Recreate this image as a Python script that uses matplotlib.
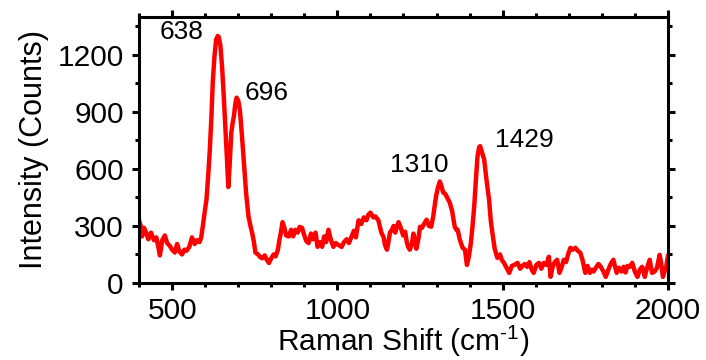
import matplotlib
matplotlib.use("Agg")
import matplotlib.pyplot as plt
from matplotlib.ticker import MultipleLocator

plt.rcParams['font.family'] = ['Liberation Sans', 'DejaVu Sans']
plt.rcParams['mathtext.fontset'] = 'custom'
plt.rcParams['mathtext.rm'] = 'Liberation Sans'
plt.rcParams['mathtext.default'] = 'regular'

# Raman spectrum: shift (cm^-1) and intensity (counts)
shift = [400, 405, 409, 415, 420, 428, 436, 445, 452, 457, 463, 470, 478, 485,
         493, 500, 508, 515, 522, 530, 537, 544, 552, 560, 568, 575, 583, 588,
         593, 599, 604, 609, 614, 619, 623, 628, 633, 638, 641, 646, 651, 656,
         661, 666, 670, 674, 679, 683, 687, 691, 695, 700, 705, 711, 718, 724,
         731, 737, 742, 747, 752, 760, 767, 773, 780, 787, 793, 800, 807, 813,
         820, 825, 829, 834, 839, 845, 853, 860, 866, 873, 880, 886, 893, 900,
         906, 913, 920, 927, 934, 940, 947, 954, 960, 966, 973, 980, 988, 995,
         1003, 1013, 1020, 1028, 1035, 1043, 1050, 1056, 1064, 1072, 1080, 1088, 1094, 1100,
         1109, 1115, 1124, 1133, 1140, 1144, 1150, 1154, 1159, 1165, 1170, 1175, 1180, 1185,
         1192, 1199, 1205, 1210, 1214, 1219, 1225, 1230, 1235, 1239, 1245, 1250, 1256, 1262,
         1270, 1277, 1284, 1290, 1294, 1299, 1304, 1310, 1315, 1320, 1326, 1332, 1340, 1347,
         1355, 1360, 1364, 1370, 1379, 1386, 1392, 1398, 1404, 1409, 1414, 1419, 1424, 1429,
         1432, 1437, 1444, 1450, 1455, 1459, 1464, 1469, 1476, 1484, 1492, 1498, 1504, 1512,
         1520, 1528, 1536, 1545, 1553, 1560, 1567, 1574, 1581, 1588, 1594, 1602, 1610, 1617,
         1625, 1633, 1640, 1645, 1652, 1658, 1665, 1672, 1678, 1685, 1692, 1698, 1705, 1712,
         1720, 1727, 1735, 1742, 1750, 1757, 1764, 1770, 1775, 1782, 1790, 1797, 1805, 1812,
         1820, 1827, 1835, 1845, 1852, 1860, 1866, 1872, 1878, 1885, 1892, 1900, 1908, 1915,
         1922, 1930, 1937, 1945, 1952, 1960, 1967, 1975, 1980, 1985, 1990, 1995, 2000]
intensity = [330, 300, 245, 290, 270, 230, 265, 225, 240, 200, 145, 225, 250, 210,
             195, 175, 160, 205, 165, 150, 175, 170, 190, 240, 205, 225, 215, 240,
             300, 380, 440, 560, 700, 880, 1060, 1190, 1280, 1300, 1295, 1250, 1140, 990,
             825, 650, 505, 620, 790, 840, 880, 940, 975, 960, 910, 780, 615, 470,
             350, 300, 265, 220, 160, 150, 135, 130, 145, 120, 105, 130, 150, 140,
             175, 230, 265, 320, 295, 250, 245, 280, 245, 280, 265, 295, 290, 250,
             220, 210, 260, 230, 265, 190, 215, 190, 245, 215, 280, 230, 190, 210,
             200, 190, 215, 230, 210, 245, 275, 240, 330, 310, 345, 330, 360, 370,
             345, 350, 330, 265, 240, 200, 175, 210, 265, 280, 300, 265, 295, 320,
             290, 250, 270, 215, 190, 175, 200, 260, 220, 180, 230, 296, 290, 310,
             333, 300, 296, 350, 402, 460, 500, 534, 510, 476, 470, 450, 423, 380,
             296, 280, 280, 230, 185, 175, 95, 140, 212, 300, 402, 540, 667, 715,
             720, 690, 651, 560, 490, 439, 330, 264, 180, 132, 150, 120, 106, 80,
             53, 90, 95, 106, 75, 90, 100, 85, 110, 70, 53, 95, 106, 75,
             106, 95, 138, 32, 90, 110, 122, 53, 80, 122, 110, 150, 185, 175,
             185, 170, 159, 120, 53, 90, 53, 70, 60, 80, 100, 85, 60, 32,
             70, 100, 122, 53, 80, 60, 85, 55, 90, 85, 106, 60, 32, 70,
             85, 32, 80, 122, 53, 60, 80, 148, 100, 32, 60, 85, 140]

# Peak annotations (label, x, y)
peak_labels = ["638", "696", "1310", "1429"]
label_x = [530, 785, 1247, 1565]
label_y = [1323, 1000, 619, 751]

fig = plt.figure(figsize=(7.06, 3.60), dpi=100)
ax = fig.add_axes([0.197, 0.214, 0.749, 0.739])

ax.plot(shift, intensity, color="#ff0000", lw=3.2, solid_joinstyle="round")

for lab, lx, ly in zip(peak_labels, label_x, label_y):
    ax.text(lx, ly, lab, ha="center", va="center", fontsize=19)

ax.set_xlim(400, 2000)
ax.set_ylim(0, 1400)
ax.xaxis.set_major_locator(MultipleLocator(500))
ax.xaxis.set_minor_locator(MultipleLocator(100))
ax.yaxis.set_major_locator(MultipleLocator(300))
ax.yaxis.set_minor_locator(MultipleLocator(150))

for s in ax.spines.values():
    s.set_linewidth(2.2)
ax.tick_params(which="both", direction="out", top=True, right=True,
               labeltop=False, labelright=False, width=2.2, labelsize=21.5)
ax.tick_params(which="major", length=5)
ax.tick_params(which="minor", length=3)
ax.tick_params(axis="x", which="major", pad=5)
ax.tick_params(axis="y", which="major", pad=6)

ax.set_xlabel(r"Raman Shift (cm$^{\text{-1}}$)", fontsize=21.5, labelpad=-1)
ax.set_ylabel("Intensity (Counts)", fontsize=22, labelpad=6)

fig.savefig("out.png", dpi=100)
